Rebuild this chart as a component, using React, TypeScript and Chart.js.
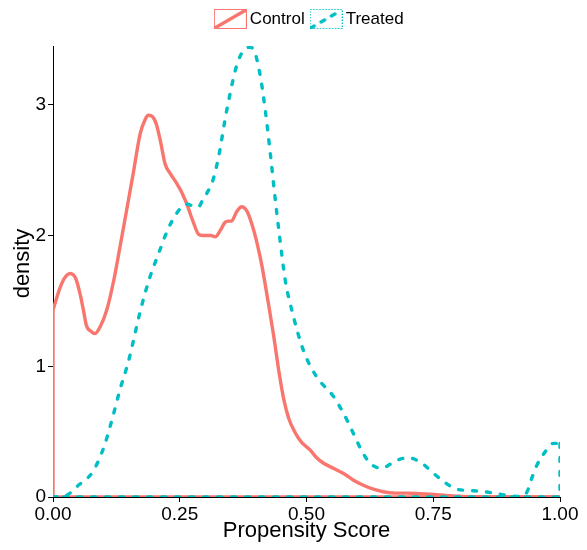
import React, { useEffect, useRef } from "react";
import { Chart, registerables } from "chart.js";

Chart.register(...registerables);

const seriesNames = ["Control", "Treated"];
const controlColor = "#F8766D";
const treatedColor = "#00BFC4";

const controlX = [0, 0.012, 0.022, 0.034, 0.045, 0.053, 0.06, 0.066, 0.074, 0.083, 0.094, 0.106, 0.12, 0.132, 0.145, 0.158, 0.172, 0.182, 0.188, 0.196, 0.204, 0.212, 0.221, 0.232, 0.244, 0.254, 0.264, 0.276, 0.287, 0.295, 0.303, 0.312, 0.32, 0.33, 0.339, 0.346, 0.352, 0.362, 0.372, 0.382, 0.392, 0.402, 0.412, 0.424, 0.435, 0.446, 0.455, 0.465, 0.478, 0.49, 0.507, 0.52, 0.533, 0.553, 0.573, 0.592, 0.612, 0.632, 0.651, 0.675, 0.7, 0.725, 0.75, 0.775, 0.8, 0.85, 0.9, 0.95, 1.0];
const controlY = [1.43, 1.58, 1.67, 1.71, 1.67, 1.56, 1.43, 1.31, 1.27, 1.25, 1.31, 1.43, 1.66, 1.91, 2.19, 2.47, 2.78, 2.89, 2.92, 2.91, 2.85, 2.72, 2.55, 2.47, 2.4, 2.33, 2.24, 2.11, 2.01, 2.0, 2.0, 2.0, 1.99, 2.04, 2.1, 2.11, 2.11, 2.18, 2.22, 2.19, 2.09, 1.95, 1.77, 1.5, 1.24, 0.95, 0.75, 0.6, 0.49, 0.42, 0.36, 0.3, 0.26, 0.22, 0.18, 0.13, 0.09, 0.06, 0.04, 0.03, 0.03, 0.025, 0.02, 0.012, 0.006, 0.002, 0.001, 0, 0];

const treatedX = [0, 0.013, 0.026, 0.04, 0.05, 0.064, 0.078, 0.09, 0.102, 0.117, 0.132, 0.149, 0.16, 0.172, 0.191, 0.208, 0.227, 0.244, 0.257, 0.267, 0.277, 0.287, 0.295, 0.303, 0.316, 0.329, 0.339, 0.349, 0.36, 0.37, 0.38, 0.388, 0.396, 0.408, 0.418, 0.428, 0.438, 0.448, 0.458, 0.471, 0.494, 0.52, 0.553, 0.573, 0.592, 0.608, 0.625, 0.648, 0.665, 0.678, 0.701, 0.727, 0.748, 0.77, 0.796, 0.822, 0.852, 0.88, 0.905, 0.925, 0.935, 0.944, 0.954, 0.968, 0.987, 1.0];
const treatedY = [0, 0.003, 0.012, 0.05, 0.09, 0.13, 0.19, 0.28, 0.4, 0.6, 0.82, 1.04, 1.22, 1.42, 1.68, 1.86, 2.05, 2.17, 2.23, 2.24, 2.22, 2.22, 2.27, 2.32, 2.43, 2.65, 2.88, 3.08, 3.27, 3.38, 3.43, 3.44, 3.42, 3.24, 2.98, 2.65, 2.29, 1.96, 1.66, 1.43, 1.12, 0.92, 0.77, 0.64, 0.49, 0.36, 0.26, 0.22, 0.25, 0.28, 0.3, 0.26, 0.19, 0.12, 0.06, 0.05, 0.04, 0.022, 0.008, 0.004, 0.04, 0.14, 0.24, 0.33, 0.41, 0.41];

const xTickValues = [0, 0.25, 0.5, 0.75, 1];
const yTickValues = [0, 1, 2, 3];
const xRange = [0, 1];
const yRange = [0, 3.45];
const xTitle = "Propensity Score";
const yTitle = "density";

const FONT = "'Liberation Sans', Arial, Helvetica, sans-serif";

function toPoints(xs: number[], ys: number[]) {
  return xs.map((x, i) => ({ x, y: ys[i] }));
}

function makeKey(color: string, dashed: boolean) {
  const c = document.createElement("canvas");
  c.width = 33;
  c.height = 20;
  const g = c.getContext("2d")!;
  g.strokeStyle = color;
  g.lineWidth = 1;
  if (dashed) g.setLineDash([1.5, 1.5]);
  g.strokeRect(0.5, 0.5, 32, 19);
  g.setLineDash(dashed ? [4, 8] : []);
  g.lineWidth = 3.4;
  g.lineCap = dashed ? "round" : "butt";
  g.beginPath();
  g.moveTo(1, 19);
  g.lineTo(32, 1);
  g.stroke();
  return c;
}

export default function App() {
  const ref = useRef<HTMLCanvasElement | null>(null);

  useEffect(() => {
    if (!ref.current) return;
    const keyC = makeKey(controlColor, false);
    const keyT = makeKey(treatedColor, true);
    const first = controlY[0];
    const lastT = treatedY[treatedY.length - 1];

    const layoutTweaks = {
      id: "layoutTweaks",
      beforeLayout(chart: any) {
        const lg = chart.legend;
        if (lg && !lg.__patched) {
          const orig = lg.fit;
          lg.fit = function () {
            orig.call(this);
            this.height += 8.5;
          };
          lg.__patched = true;
        }
      },
      afterLayout(chart: any) {
        const lg = chart.legend;
        if (lg) {
          lg.left += 5;
          lg.right += 5;
        }
        const ys = chart.scales.y;
        if (ys && !ys.__patched) {
          const origTitle = ys.drawTitle;
          ys.drawTitle = function () {
            const t = this.top;
            this.top -= 16;
            origTitle.call(this);
            this.top = t;
          };
          ys.__patched = true;
        }
      },
    };

    const chart = new Chart(ref.current, {
      type: "scatter",
      data: {
        datasets: [
          {
            label: seriesNames[0],
            data: toPoints(controlX, controlY),
            showLine: true,
            borderColor: controlColor,
            borderWidth: 3.4,
            pointRadius: 0,
            cubicInterpolationMode: "monotone",
            clip: 0,
            order: 2,
          } as any,
          {
            label: seriesNames[0] + " outline",
            data: [
              { x: xRange[1], y: 0 },
              { x: xRange[0], y: 0 },
              { x: xRange[0], y: first },
            ],
            showLine: true,
            borderColor: controlColor,
            borderWidth: 3.4,
            pointRadius: 0,
            tension: 0,
            clip: 0,
            order: 2,
          } as any,
          {
            label: seriesNames[1],
            data: toPoints(treatedX, treatedY),
            showLine: true,
            borderColor: treatedColor,
            borderWidth: 3.4,
            borderDash: [4, 10],
            borderCapStyle: "round",
            pointRadius: 0,
            cubicInterpolationMode: "monotone",
            clip: 0,
            order: 1,
          } as any,
          {
            label: seriesNames[1] + " outline",
            data: [
              { x: xRange[1], y: lastT },
              { x: xRange[1], y: 0 },
              { x: xRange[0], y: 0 },
            ],
            showLine: true,
            borderColor: treatedColor,
            borderWidth: 3.4,
            borderDash: [4, 10],
            borderCapStyle: "round",
            pointRadius: 0,
            tension: 0,
            clip: 0,
            order: 1,
          } as any,
        ],
      },
      options: {
        animation: false,
        responsive: false,
        layout: { padding: { top: 0, right: 27, bottom: 0, left: 0 } },
        plugins: {
          tooltip: { enabled: false },
          legend: {
            display: true,
            position: "top",
            fullSize: false,
            labels: {
              usePointStyle: true,
              pointStyleWidth: 22,
              padding: 10.5,
              color: "#000",
              font: { family: FONT, size: 17 },
              generateLabels: () => [
                {
                  text: seriesNames[0],
                  pointStyle: keyC as any,
                  datasetIndex: 0,
                  fillStyle: "rgba(0,0,0,0)",
                  strokeStyle: "rgba(0,0,0,0)",
                  lineWidth: 0,
                  hidden: false,
                  fontColor: "#000",
                } as any,
                {
                  text: seriesNames[1],
                  pointStyle: keyT as any,
                  datasetIndex: 2,
                  fillStyle: "rgba(0,0,0,0)",
                  strokeStyle: "rgba(0,0,0,0)",
                  lineWidth: 0,
                  hidden: false,
                  fontColor: "#000",
                } as any,
              ],
            },
          },
        },
        scales: {
          x: {
            type: "linear",
            min: xRange[0],
            max: xRange[1],
            afterFit: (s: any) => {
              s.height = 53;
            },
            afterBuildTicks: (s: any) => {
              s.ticks = xTickValues.map((v) => ({ value: v }));
            },
            ticks: {
              color: "#000",
              padding: 1,
              maxRotation: 0,
              autoSkip: false,
              font: { family: FONT, size: 19 },
              callback: (v: any) => Number(v).toFixed(2),
            },
            grid: {
              display: true,
              drawOnChartArea: false,
              drawTicks: true,
              tickLength: 5,
              tickColor: "#000",
              tickWidth: 1,
            },
            border: { display: true, color: "#000", width: 1 },
            title: {
              display: true,
              text: xTitle,
              color: "#000",
              font: { family: FONT, size: 22 },
              padding: { top: 0, bottom: 5.4 },
            },
          },
          y: {
            type: "linear",
            min: yRange[0],
            max: yRange[1],
            afterFit: (s: any) => {
              s.width = 53;
            },
            afterBuildTicks: (s: any) => {
              s.ticks = yTickValues.map((v) => ({ value: v }));
            },
            ticks: {
              color: "#000",
              padding: 2,
              font: { family: FONT, size: 19 },
              callback: (v: any) => String(v),
            },
            grid: {
              display: true,
              drawOnChartArea: false,
              drawTicks: true,
              tickLength: 5,
              tickColor: "#000",
              tickWidth: 1,
            },
            border: { display: true, color: "#000", width: 1 },
            title: {
              display: true,
              text: yTitle,
              color: "#000",
              font: { family: FONT, size: 22 },
              padding: { top: 10, bottom: 0 },
            },
          },
        },
      },
      plugins: [layoutTweaks],
    } as any);

    return () => chart.destroy();
  }, []);

  return (
    <div style={{ position: "fixed", left: 0, top: 0, width: 587, height: 550, background: "#fff" }}>
      <canvas ref={ref} width={587} height={550} style={{ width: 587, height: 550, display: "block" }} />
    </div>
  );
}
